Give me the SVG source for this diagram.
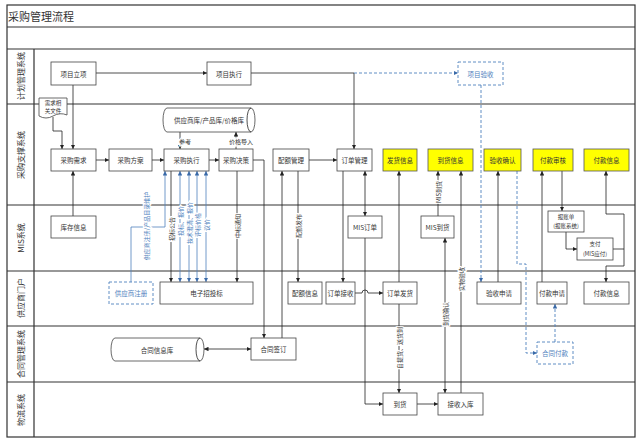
<svg xmlns="http://www.w3.org/2000/svg" width="640" height="444" viewBox="0 0 640 444">
<defs>
<marker id="a" viewBox="0 0 6 6" refX="6" refY="3" markerUnits="userSpaceOnUse" markerWidth="4.5" markerHeight="4.5" orient="auto-start-reverse"><path d="M0,0L6,3L0,6z" fill="#222"/></marker>
<marker id="b" viewBox="0 0 6 6" refX="6" refY="3" markerUnits="userSpaceOnUse" markerWidth="4.5" markerHeight="4.5" orient="auto-start-reverse"><path d="M0,0L6,3L0,6z" fill="#3a6aa8"/></marker>
</defs>
<style>
text{font-family:"Noto Sans CJK SC","Noto Sans",sans-serif;fill:#333}
.t{font-size:6.5px;text-anchor:middle;dominant-baseline:central}
.s{font-size:5.5px}
.box{fill:#fff;stroke:#444;stroke-width:0.8}
.y{fill:#ffff00;stroke:#555;stroke-width:0.8}
.d{fill:#fff;stroke:#4f81bd;stroke-width:0.9;stroke-dasharray:3,2}
.bt{fill:#4f81bd}
.lane{stroke:#333;stroke-width:1.2;fill:none}
.ll{font-size:8px;text-anchor:middle;dominant-baseline:central}
.c{fill:none;stroke:#222;stroke-width:0.8}
.cb{fill:none;stroke:#4f81bd;stroke-width:0.8}
.cd{fill:none;stroke:#4f81bd;stroke-width:0.9;stroke-dasharray:3,2}
.lb{font-size:6px;text-anchor:middle;dominant-baseline:central;stroke:#fff;stroke-width:2.5;paint-order:stroke}
</style>
<rect width="640" height="444" fill="#fff"/>
<g id="frame">
<rect x="7" y="5" width="628" height="432" class="lane"/>
<path class="lane" d="M7,27H635M7,49H635M7,104H635M7,205H635M7,271H635M7,326H635M7,382H635M34,49V437"/>
<text x="8" y="16" font-size="11" dominant-baseline="central">采购管理流程</text>
<text class="ll" transform="translate(20,76) rotate(-90)">计划管理系统</text>
<text class="ll" transform="translate(20,155) rotate(-90)">采购支撑系统</text>
<text class="ll" transform="translate(20,238) rotate(-90)">MIS系统</text>
<text class="ll" transform="translate(20,298) rotate(-90)">供应商门户</text>
<text class="ll" transform="translate(20,354) rotate(-90)">合同管理系统</text>
<text class="ll" transform="translate(20,410) rotate(-90)">物流系统</text>
</g>
<g id="connectors">
<path class="c" d="M96,73H207" marker-end="url(#a)"/>
<path class="c" d="M251,73H354V149" marker-end="url(#a)"/>
<path class="cd" d="M354,73H458" marker-end="url(#b)"/>
<path class="cd" d="M481,85V282" marker-end="url(#b)"/>
<path class="c" d="M73,85V149" marker-end="url(#a)"/>
<path class="c" d="M53,117V131H62V149" marker-end="url(#a)"/>
<path class="c" d="M73,216V171" marker-end="url(#a)"/>
<path class="c" d="M96,160H109" marker-end="url(#a)"/>
<path class="c" d="M152,160H164" marker-end="url(#a)"/>
<path class="c" d="M209,160H219" marker-end="url(#a)"/>
<path class="c" d="M180,132V149" marker-end="url(#a)"/>
<text class="lb" x="185" y="141">参考</text>
<path class="c" d="M236,149V132" marker-end="url(#a)"/>
<text class="lb" x="241" y="141">价格导入</text>
<path class="c" d="M253,160H264V338" marker-end="url(#a)"/>
<path class="c" d="M282,338V171" marker-end="url(#a)"/>
<path class="c" d="M309,160H337" marker-end="url(#a)"/>
<path class="c" d="M298,171V282" marker-end="url(#a)"/>
<text class="lb" transform="translate(298,226) rotate(-90)">配额发布</text>
<path class="c" d="M343,171V282" marker-end="url(#a)"/>
<path class="c" d="M365,171V216" marker-start="url(#a)" marker-end="url(#a)"/>
<path class="c" d="M365,238V404H383" marker-end="url(#a)"/>
<path class="c" d="M355,293H362A3,3 0 0 1 368,293H383" marker-end="url(#a)"/>
<path class="c" d="M399,282V171" marker-end="url(#a)"/>
<path class="c" d="M399,304V393" marker-end="url(#a)"/>
<text class="lb" transform="translate(399,348) rotate(-90)">自提货、送货到</text>
<path class="c" d="M417,404H438" marker-end="url(#a)"/>
<path class="c" d="M438,216V171" marker-end="url(#a)"/>
<text class="lb" transform="translate(438,192) rotate(-90)">MIS到货</text>
<path class="c" d="M445,238V393" marker-start="url(#a)" marker-end="url(#a)"/>
<text class="lb" transform="translate(445,314) rotate(-90)">到货确认</text>
<path class="c" d="M461,393V171" marker-end="url(#a)"/>
<text class="lb" transform="translate(461,279) rotate(-90)">实物验收</text>
<path class="c" d="M498,282V171" marker-end="url(#a)"/>
<path class="cd" d="M517,171V264H526V353H537" marker-end="url(#b)"/>
<path class="cd" d="M555,342V304" marker-end="url(#b)"/>
<path class="c" d="M542,282V171" marker-end="url(#a)"/>
<path class="c" d="M562,171V211" marker-end="url(#a)"/>
<path class="c" d="M566,232V249H577" marker-end="url(#a)"/>
<path class="c" d="M613,249H624"/>
<path class="c" d="M624,249V214H606V171" marker-end="url(#a)"/>
<path class="c" d="M624,249V266H606V282" marker-end="url(#a)"/>
<path class="cb" d="M131,282V227H165V171" marker-end="url(#b)"/>
<text class="lb" transform="translate(146,226) rotate(-90)" style="fill:#4f81bd">供应商注册/产品目录维护</text>
<path class="c" d="M171,171V282" marker-end="url(#a)"/>
<path class="cb" d="M180,171V282" marker-start="url(#b)" marker-end="url(#b)"/>
<path class="cb" d="M189,171V282" marker-start="url(#b)" marker-end="url(#b)"/>
<path class="cb" d="M197,171V282" marker-start="url(#b)" marker-end="url(#b)"/>
<path class="cb" d="M206,171V282" marker-start="url(#b)" marker-end="url(#b)"/>
<text class="lb" transform="translate(171,229) rotate(-90)">招标公告</text>
<text class="lb" transform="translate(180,221) rotate(-90)" style="fill:#4f81bd">投标、报价</text>
<text class="lb" transform="translate(189,223) rotate(-90)" style="fill:#4f81bd">技术澄清、报价</text>
<text class="lb" transform="translate(197,225) rotate(-90)" style="fill:#4f81bd">评标价格</text>
<text class="lb" transform="translate(206,225) rotate(-90)" style="fill:#4f81bd">议价</text>
<path class="c" d="M237,171V282" marker-end="url(#a)"/>
<text class="lb" transform="translate(237,226) rotate(-90)">中标通知</text>
<path class="c" d="M204,349H251" marker-start="url(#a)" marker-end="url(#a)"/>
</g>
<g id="n-xmlx"><rect class="box" x="51" y="62" width="45" height="23"/><text class="t" x="73.5" y="73.5">项目立项</text></g>
<g id="n-xmzx"><rect class="box" x="207" y="62" width="44" height="23"/><text class="t" x="229" y="73.5">项目执行</text></g>
<g id="n-xmys"><rect class="d" x="458" y="62" width="45" height="23"/><text class="t bt" x="480.5" y="73.5">项目验收</text></g>
<g id="n-xqwj"><path class="box" d="M39,98H67V115Q60,112 53,116Q46,120 39,116Z"/><text class="t s" x="53" y="102.5">需求相</text><text class="t s" x="53" y="110.5">关文件</text></g>
<g id="n-gysk"><path class="box" d="M167,108H251A4,12 0 0 1 251,132H167A4,12 0 0 1 167,108Z"/><path class="c" d="M251,108A4,12 0 0 0 251,132"/><text class="t" x="209" y="120">供应商库/产品库/价格库</text></g>
<g id="n-cgxq"><rect class="box" x="51" y="149" width="45" height="22"/><text class="t" x="73.5" y="160">采购需求</text></g>
<g id="n-cgfa"><rect class="box" x="109" y="149" width="43" height="22"/><text class="t" x="130.5" y="160">采购方案</text></g>
<g id="n-cgzx"><rect class="box" x="164" y="149" width="45" height="22"/><text class="t" x="186.5" y="160">采购执行</text></g>
<g id="n-cgjc"><rect class="box" x="219" y="149" width="34" height="22"/><text class="t" x="236" y="160">采购决策</text></g>
<g id="n-pegl"><rect class="box" x="273" y="149" width="36" height="22"/><text class="t" x="291" y="160">配额管理</text></g>
<g id="n-ddgl"><rect class="box" x="337" y="149" width="35" height="22"/><text class="t" x="354.5" y="160">订单管理</text></g>
<g id="n-fhxx"><rect class="y" x="383" y="149" width="34" height="22"/><text class="t" x="400" y="160">发货信息</text></g>
<g id="n-dhxx"><rect class="y" x="428" y="149" width="45" height="22"/><text class="t" x="450.5" y="160">到货信息</text></g>
<g id="n-ysqr"><rect class="y" x="484" y="149" width="37" height="22"/><text class="t" x="502.5" y="160">验收确认</text></g>
<g id="n-fksh"><rect class="y" x="533" y="149" width="40" height="22"/><text class="t" x="553" y="160">付款审核</text></g>
<g id="n-fkxx1"><rect class="y" x="584" y="149" width="45" height="22"/><text class="t" x="606.5" y="160">付款信息</text></g>
<g id="n-kcxx"><rect class="box" x="51" y="216" width="45" height="22"/><text class="t" x="73.5" y="227">库存信息</text></g>
<g id="n-misdd"><rect class="box" x="348" y="216" width="34" height="22"/><text class="t" x="365" y="227">MIS订单</text></g>
<g id="n-misdh"><rect class="box" x="421" y="216" width="33" height="22"/><text class="t" x="437.5" y="227">MIS到货</text></g>
<g id="n-bzd"><rect class="box" x="548" y="211" width="36" height="21"/><text class="t s" x="566" y="216.5">报账单</text><text class="t s" x="566" y="225.5">(报账系统)</text></g>
<g id="n-zf"><rect class="box" x="577" y="238" width="36" height="22"/><text class="t s" x="595" y="244">支付</text><text class="t s" x="595" y="253.5">(MIS应付)</text></g>
<g id="n-gyszc"><rect class="d" x="109" y="282" width="44" height="22"/><text class="t bt" x="131" y="293">供应商注册</text></g>
<g id="n-dzztb"><rect class="box" x="160" y="282" width="93" height="22"/><text class="t" x="206.5" y="293">电子招投标</text></g>
<g id="n-pexx"><rect class="box" x="288" y="282" width="34" height="22"/><text class="t" x="305" y="293">配额信息</text></g>
<g id="n-ddjs"><rect class="box" x="326" y="282" width="29" height="22"/><text class="t" x="340.5" y="293">订单接收</text></g>
<g id="n-ddfh"><rect class="box" x="383" y="282" width="34" height="22"/><text class="t" x="400" y="293">订单发货</text></g>
<g id="n-yssq"><rect class="box" x="477" y="282" width="44" height="22"/><text class="t" x="499" y="293">验收申请</text></g>
<g id="n-fksq"><rect class="box" x="537" y="282" width="30" height="22"/><text class="t" x="552" y="293">付款申请</text></g>
<g id="n-fkxx2"><rect class="box" x="584" y="282" width="45" height="22"/><text class="t" x="606.5" y="293">付款信息</text></g>
<g id="n-htxxk"><path class="box" d="M115,338H200A4,11.5 0 0 1 200,361H115A4,11.5 0 0 1 115,338Z"/><path class="c" d="M200,338A4,11.5 0 0 0 200,361"/><text class="t" x="157" y="349.5">合同信息库</text></g>
<g id="n-htqd"><rect class="box" x="251" y="338" width="45" height="22"/><text class="t" x="273.5" y="349">合同签订</text></g>
<g id="n-htfk"><rect class="d" x="537" y="342" width="36" height="22"/><text class="t bt" x="555" y="353">合同付款</text></g>
<g id="n-dh"><rect class="box" x="383" y="393" width="34" height="22"/><text class="t" x="400" y="404">到货</text></g>
<g id="n-jsrk"><rect class="box" x="438" y="393" width="45" height="22"/><text class="t" x="460.5" y="404">接收入库</text></g>
</svg>
